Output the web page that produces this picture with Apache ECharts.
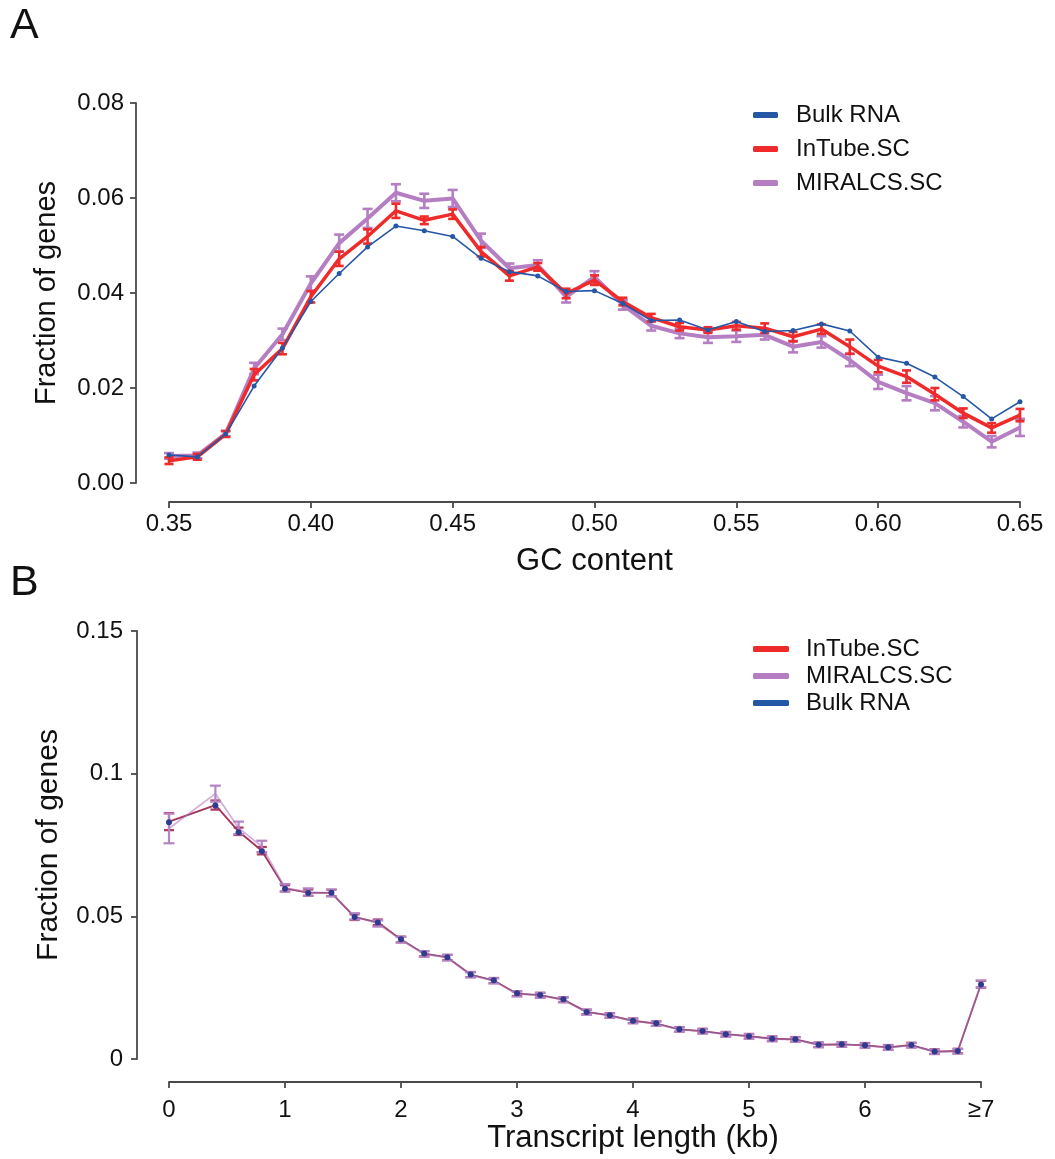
<!DOCTYPE html>
<html>
<head>
<meta charset="utf-8">
<script src="https://cdn.jsdelivr.net/npm/echarts@6/dist/echarts.min.js"></script>
<style>
  html, body { margin: 0; padding: 0; background: #fff; }
  #chart { width: 1055px; height: 1159px; }
</style>
</head>
<body>
<div id="chart"></div>
<script>
// ---------- Panel A: fraction of genes by GC content ----------
const gcContent = [0.35, 0.36, 0.37, 0.38, 0.39, 0.40, 0.41, 0.42, 0.43, 0.44, 0.45,
  0.46, 0.47, 0.48, 0.49, 0.50, 0.51, 0.52, 0.53, 0.54, 0.55,
  0.56, 0.57, 0.58, 0.59, 0.60, 0.61, 0.62, 0.63, 0.64, 0.65];

const gcBulk = [0.0059, 0.0055, 0.0103, 0.0204, 0.0284, 0.0382, 0.0441, 0.0497, 0.0541, 0.0531, 0.0519,
  0.0473, 0.0445, 0.0436, 0.0403, 0.0405, 0.0378, 0.0342, 0.0343, 0.0322, 0.0340,
  0.0319, 0.0321, 0.0335, 0.0320, 0.0265, 0.0252, 0.0223, 0.0182, 0.0135, 0.0171];

const gcInTube = [0.0047, 0.0055, 0.0103, 0.0228, 0.0283, 0.0392, 0.0472, 0.0519, 0.0573, 0.0553, 0.0566,
  0.0487, 0.0436, 0.0455, 0.0399, 0.0427, 0.0382, 0.0348, 0.0329, 0.0322, 0.0331,
  0.0326, 0.0308, 0.0324, 0.0287, 0.0246, 0.0224, 0.0187, 0.0147, 0.0116, 0.0143];
const gcInTubeErr = [0.0007, 0.0006, 0.0006, 0.0012, 0.0012, 0.0012, 0.0015, 0.0015, 0.0015, 0.0008, 0.0010,
  0.0010, 0.0010, 0.0008, 0.0010, 0.0010, 0.0008, 0.0008, 0.0008, 0.0006, 0.0008,
  0.0010, 0.0010, 0.0010, 0.0015, 0.0013, 0.0013, 0.0013, 0.0010, 0.0010, 0.0013];

const gcMiralcs = [0.0057, 0.0058, 0.0104, 0.0241, 0.0313, 0.0420, 0.0505, 0.0557, 0.0611, 0.0594, 0.0599,
  0.0510, 0.0452, 0.0459, 0.0392, 0.0434, 0.0375, 0.0331, 0.0315, 0.0307, 0.0309,
  0.0312, 0.0287, 0.0297, 0.0259, 0.0213, 0.0189, 0.0168, 0.0129, 0.0087, 0.0117];
const gcMiralcsErr = [0.0006, 0.0006, 0.0006, 0.0012, 0.0012, 0.0015, 0.0018, 0.0020, 0.0018, 0.0015, 0.0018,
  0.0015, 0.0010, 0.0010, 0.0012, 0.0012, 0.0010, 0.0010, 0.0010, 0.0012, 0.0012,
  0.0010, 0.0012, 0.0012, 0.0013, 0.0015, 0.0015, 0.0015, 0.0012, 0.0012, 0.0018];

const gcTicks = [0.35, 0.40, 0.45, 0.50, 0.55, 0.60, 0.65];

// ---------- Panel B: fraction of genes by transcript length ----------
const lengthKb = [0, 0.4, 0.6, 0.8, 1.0, 1.2, 1.4, 1.6, 1.8, 2.0,
  2.2, 2.4, 2.6, 2.8, 3.0, 3.2, 3.4, 3.6, 3.8, 4.0,
  4.2, 4.4, 4.6, 4.8, 5.0, 5.2, 5.4, 5.6, 5.8, 6.0,
  6.2, 6.4, 6.6, 6.8, 7];

const lenBulk = [0.0830, 0.0888, 0.0795, 0.0728, 0.0597, 0.0582, 0.0583, 0.0498, 0.0478, 0.0420,
  0.0370, 0.0357, 0.0296, 0.0276, 0.0230, 0.0224, 0.0209, 0.0165, 0.0153, 0.0134,
  0.0125, 0.0104, 0.0098, 0.0087, 0.0080, 0.0071, 0.0069, 0.0050, 0.0052, 0.0048,
  0.0041, 0.0049, 0.0026, 0.0028, 0.0261];

const lenInTube = [0.0832, 0.0890, 0.0798, 0.0730, 0.0598, 0.0583, 0.0582, 0.0497, 0.0479, 0.0419,
  0.0369, 0.0356, 0.0296, 0.0275, 0.0229, 0.0224, 0.0208, 0.0165, 0.0153, 0.0134,
  0.0124, 0.0104, 0.0098, 0.0087, 0.0080, 0.0071, 0.0069, 0.0050, 0.0051, 0.0048,
  0.0041, 0.0049, 0.0026, 0.0028, 0.0262];
const lenInTubeErr = [0.0030, 0.0016, 0.0013, 0.0013, 0.0011, 0.0011, 0.0011, 0.0010, 0.0010, 0.0010,
  0.0009, 0.0009, 0.0009, 0.0009, 0.0008, 0.0008, 0.0008, 0.0008, 0.0008, 0.0008,
  0.0008, 0.0008, 0.0008, 0.0008, 0.0008, 0.0008, 0.0008, 0.0008, 0.0008, 0.0008,
  0.0008, 0.0008, 0.0008, 0.0008, 0.0012];

const lenMiralcs = [0.0808, 0.0930, 0.0810, 0.0745, 0.0600, 0.0585, 0.0582, 0.0500, 0.0475, 0.0418,
  0.0368, 0.0355, 0.0295, 0.0274, 0.0228, 0.0223, 0.0207, 0.0164, 0.0152, 0.0133,
  0.0124, 0.0103, 0.0097, 0.0086, 0.0079, 0.0070, 0.0068, 0.0049, 0.0051, 0.0047,
  0.0040, 0.0048, 0.0025, 0.0027, 0.0263];
const lenMiralcsErr = [0.0052, 0.0028, 0.0022, 0.0020, 0.0013, 0.0013, 0.0012, 0.0011, 0.0011, 0.0010,
  0.0010, 0.0010, 0.0009, 0.0009, 0.0009, 0.0009, 0.0009, 0.0009, 0.0008, 0.0008,
  0.0008, 0.0008, 0.0008, 0.0008, 0.0008, 0.0008, 0.0008, 0.0008, 0.0008, 0.0008,
  0.0008, 0.0008, 0.0008, 0.0008, 0.0012];

const lenTicks = [0, 1, 2, 3, 4, 5, 6, 7];
const lenTickLabels = ['0', '1', '2', '3', '4', '5', '6', '≥7'];

// ---------- styling ----------
const FONT = "'Liberation Sans', Arial, Helvetica, sans-serif";
const COL_BULK = '#2557a7';
const COL_INTUBE = '#ee2a2a';
const COL_MIRALCS = '#b57dc2';
const COL_BULK_DOT = '#2e3b8f';
const AXIS_COL = '#4a4a4a';

const pairs = (xs, ys) => xs.map((x, i) => [x, ys[i]]);
const errRows = (xs, ys, es) => xs.map((x, i) => [x, ys[i] - es[i], ys[i] + es[i]]);

function errorBarRenderer(color, capHalf, width) {
  return function (params, api) {
    const x = api.value(0);
    const top = api.coord([x, api.value(2)]);
    const bot = api.coord([x, api.value(1)]);
    const style = { stroke: color, lineWidth: width, fill: null };
    return {
      type: 'group',
      children: [
        { type: 'line', shape: { x1: top[0], y1: top[1], x2: bot[0], y2: bot[1] }, style },
        { type: 'line', shape: { x1: top[0] - capHalf, y1: top[1], x2: top[0] + capHalf, y2: top[1] }, style },
        { type: 'line', shape: { x1: bot[0] - capHalf, y1: bot[1], x2: bot[0] + capHalf, y2: bot[1] }, style }
      ]
    };
  };
}

function valueAxisBase(nameSize) {
  return {
    type: 'value',
    axisLine: { show: true, onZero: false, lineStyle: { color: AXIS_COL, width: 1.8 } },
    axisTick: { show: true, length: 6, lineStyle: { color: AXIS_COL, width: 1.8 } },
    splitLine: { show: false },
    axisLabel: { color: '#111', fontFamily: FONT, fontSize: 24 },
    nameTextStyle: { color: '#111', fontFamily: FONT, fontSize: nameSize },
    nameLocation: 'middle'
  };
}

const legendText = (pad) => ({
  formatter: (n) => '{t|' + n + '}',
  textStyle: {
    rich: { t: { fontFamily: FONT, fontSize: 24, color: '#111', padding: [0, 0, 0, pad] } }
  }
});

const option = {
  animation: false,
  backgroundColor: '#fff',
  graphic: [
    { type: 'text', left: 10, top: 5, style: { text: 'A', fontFamily: FONT, fontSize: 43, fill: '#111' } },
    { type: 'text', left: 10, top: 562, style: { text: 'B', fontFamily: FONT, fontSize: 43, fill: '#111' } }
  ],
  grid: [
    { left: 169, top: 103, width: 851, height: 380 },
    { left: 169, top: 631, width: 812, height: 428 }
  ],
  legend: [
    Object.assign({
      orient: 'vertical', left: 748, top: 98,
      itemWidth: 25, itemHeight: 6, itemGap: 10, icon: 'roundRect',
      data: ['Bulk RNA', 'InTube.SC', 'MIRALCS.SC'],
      selectedMode: false
    }, legendText(13)),
    Object.assign({
      orient: 'vertical', left: 748, top: 632,
      itemWidth: 36, itemHeight: 6, itemGap: 3, icon: 'roundRect',
      data: ['InTube.SC', 'MIRALCS.SC', 'Bulk RNA'],
      selectedMode: false
    }, legendText(12))
  ],
  xAxis: [
    Object.assign(valueAxisBase(31), {
      gridIndex: 0, min: 0.35, max: 0.65, interval: 0.05, offset: 19,
      name: 'GC content', nameGap: 44,
      axisLabel: Object.assign(valueAxisBase(31).axisLabel, {
        margin: 10,
        formatter: (v) => gcTicks.some(t => Math.abs(t - v) < 1e-9) ? v.toFixed(2) : ''
      })
    }),
    Object.assign(valueAxisBase(31), {
      gridIndex: 1, min: 0, max: 7, interval: 1, offset: 23,
      name: 'Transcript length (kb)', nameGap: 41,
      nameTextStyle: { color: '#111', fontFamily: FONT, fontSize: 31, padding: [0, 0, 0, 116] },
      axisLabel: Object.assign(valueAxisBase(31).axisLabel, {
        margin: 16,
        formatter: (v) => { const i = lenTicks.indexOf(Math.round(v)); return i >= 0 ? lenTickLabels[i] : ''; }
      })
    })
  ],
  yAxis: [
    Object.assign(valueAxisBase(29), {
      gridIndex: 0, min: 0, max: 0.08, interval: 0.02, offset: 33,
      name: 'Fraction of genes', nameGap: 75, nameRotate: 90,
      axisLabel: Object.assign(valueAxisBase(29).axisLabel, { margin: 12, formatter: (v) => v.toFixed(2) })
    }),
    Object.assign(valueAxisBase(30), {
      gridIndex: 1, min: 0, max: 0.15, interval: 0.05, offset: 32,
      name: 'Fraction of genes', nameGap: 73, nameRotate: 90,
      axisLabel: Object.assign(valueAxisBase(30).axisLabel, { margin: 14, formatter: (v) => String(+v.toFixed(2)) })
    })
  ],
  series: [
    // ---- Panel A ----
    {
      name: 'MIRALCS.SC', type: 'line', xAxisIndex: 0, yAxisIndex: 0,
      data: pairs(gcContent, gcMiralcs), showSymbol: false,
      itemStyle: { color: COL_MIRALCS }, lineStyle: { color: COL_MIRALCS, width: 4 }, z: 2
    },
    {
      name: 'MIRALCS.SC err', type: 'custom', xAxisIndex: 0, yAxisIndex: 0,
      data: errRows(gcContent, gcMiralcs, gcMiralcsErr), encode: { x: 0, y: [1, 2] },
      renderItem: errorBarRenderer(COL_MIRALCS, 5, 2.6), z: 2
    },
    {
      name: 'InTube.SC', type: 'line', xAxisIndex: 0, yAxisIndex: 0,
      data: pairs(gcContent, gcInTube), showSymbol: false,
      itemStyle: { color: COL_INTUBE }, lineStyle: { color: COL_INTUBE, width: 3.5 }, z: 3
    },
    {
      name: 'InTube.SC err', type: 'custom', xAxisIndex: 0, yAxisIndex: 0,
      data: errRows(gcContent, gcInTube, gcInTubeErr), encode: { x: 0, y: [1, 2] },
      renderItem: errorBarRenderer(COL_INTUBE, 4.5, 2.6), z: 3
    },
    {
      name: 'Bulk RNA', type: 'line', xAxisIndex: 0, yAxisIndex: 0,
      data: pairs(gcContent, gcBulk), symbol: 'circle', symbolSize: 5,
      itemStyle: { color: COL_BULK }, lineStyle: { color: COL_BULK, width: 1.6 }, z: 4
    },
    // ---- Panel B ----
    {
      name: 'InTube.SC', type: 'line', xAxisIndex: 1, yAxisIndex: 1,
      data: pairs(lengthKb, lenInTube), showSymbol: false,
      itemStyle: { color: COL_INTUBE }, lineStyle: { color: '#c0304a', width: 1.8 }, z: 1
    },
    {
      name: 'InTube.SC err', type: 'custom', xAxisIndex: 1, yAxisIndex: 1,
      data: errRows(lengthKb, lenInTube, lenInTubeErr), encode: { x: 0, y: [1, 2] },
      renderItem: errorBarRenderer('#a83a5c', 5, 2.2), z: 2
    },
    {
      name: 'MIRALCS.SC', type: 'line', xAxisIndex: 1, yAxisIndex: 1,
      data: pairs(lengthKb, lenMiralcs), showSymbol: false,
      itemStyle: { color: COL_MIRALCS }, lineStyle: { color: COL_MIRALCS, width: 1.8, opacity: 0.6 }, z: 2
    },
    {
      name: 'MIRALCS.SC err', type: 'custom', xAxisIndex: 1, yAxisIndex: 1,
      data: errRows(lengthKb, lenMiralcs, lenMiralcsErr), encode: { x: 0, y: [1, 2] },
      renderItem: errorBarRenderer('#b684c4', 5.5, 2.2), z: 3
    },
    {
      name: 'Bulk RNA', type: 'line', xAxisIndex: 1, yAxisIndex: 1,
      data: pairs(lengthKb, lenBulk), symbol: 'circle', symbolSize: 6,
      itemStyle: { color: COL_BULK_DOT },
      lineStyle: { color: COL_BULK, width: 1, opacity: 0.35 }, z: 4
    }
  ]
};

const chart = echarts.init(document.getElementById('chart'), null, { renderer: 'canvas' });
chart.setOption(option);
</script>
</body>
</html>
